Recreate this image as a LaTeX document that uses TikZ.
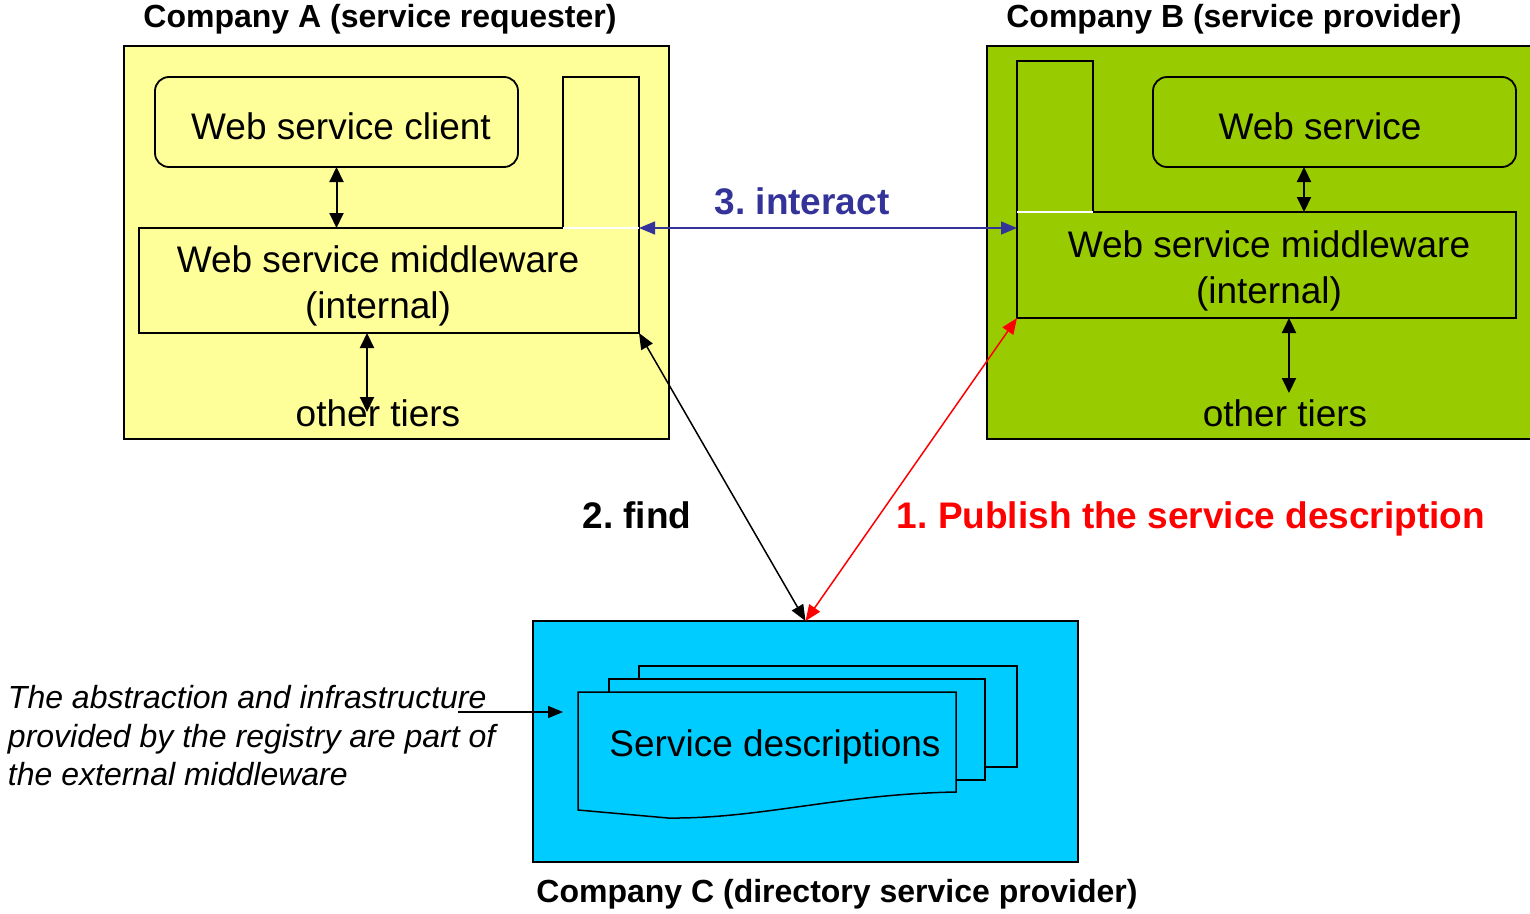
\documentclass[tikz,border=0pt]{standalone}
\usepackage{fontspec}
\setmainfont{Liberation Sans}
\usetikzlibrary{arrows.meta}
\frenchspacing
\definecolor{reqyellow}{HTML}{FFFF99}
\definecolor{provgreen}{HTML}{99CC00}
\definecolor{dircyan}{HTML}{00CCFF}
\definecolor{interblue}{HTML}{333399}
\definecolor{pubred}{HTML}{FF0000}
\tikzset{
  box/.style={draw=black, line width=1.8pt, inner sep=0pt, outer sep=0pt, anchor=north west},
  rbox/.style={box, rounded corners=14pt},
  txt/.style={inner sep=0pt, outer sep=0pt, align=center, font=\fontsize{37}{46}\selectfont},
  ttl/.style={inner sep=0pt, outer sep=0pt, font=\fontsize{32}{38}\selectfont\bfseries},
  steplbl/.style={inner sep=0pt, outer sep=0pt, font=\fontsize{37}{44}\selectfont\bfseries},
  note/.style={inner sep=0pt, outer sep=0pt, align=left, anchor=west, font=\fontsize{32}{38.5}\selectfont\itshape},
  bigarr/.style={line width=1.5pt, {Triangle[length=16pt,width=13pt]}-{Triangle[length=16pt,width=13pt]}},
  smallarr/.style={line width=2pt, {Triangle[length=15pt,width=14pt]}-{Triangle[length=15pt,width=14pt]}},
  seam/.style={draw=white, line width=1.3pt},
}
\begin{document}
\begin{tikzpicture}[x=1pt,y=-1pt]
\useasboundingbox (0,0) rectangle (1530,913);

% ---- Company A: service requester ----
\node[box, fill=reqyellow, minimum width=545pt, minimum height=393pt] (A) at (124,46) {};
\node[ttl] (Atitle) at (380,19) {Company A (service requester)};
\node[rbox, minimum width=363pt, minimum height=90pt] (client) at (155,77) {};
\node[txt] (clienttxt) at (341,126) {Web service client};
\node[box, minimum width=500pt, minimum height=105pt] (MA) at (139,228) {};
\node[txt] (MAtxt) at (378,286) {Web service middleware\\(internal)};
\node[box, minimum width=76pt, minimum height=151pt] (portA) at (563,77) {};
\draw[seam] (portA.south west) -- (portA.south east);
\node[txt] (tiersA) at (378,413) {other tiers};
\coordinate (tiersAend) at (367,412);

% ---- Company B: service provider ----
\node[box, fill=provgreen, minimum width=545pt, minimum height=393pt] (B) at (987,46) {};
\node[ttl] (Btitle) at (1234,19) {Company B (service provider)};
\node[rbox, minimum width=363pt, minimum height=90pt] (ws) at (1153,77) {};
\node[txt] (wstxt) at (1320,126) {Web service};
\node[box, minimum width=499pt, minimum height=106pt] (MB) at (1017,212) {};
\node[txt] (MBtxt) at (1269,271) {Web service middleware\\(internal)};
\node[box, minimum width=76pt, minimum height=151pt] (portB) at (1017,61) {};
\draw[seam] (portB.south west) -- (portB.south east);
\node[txt] (tiersB) at (1285,413) {other tiers};
\coordinate (wsx) at (1304,0);
\coordinate (tiersBend) at (1289,393);

% ---- Company C: directory service provider ----
\node[box, fill=dircyan, minimum width=545pt, minimum height=241pt] (C) at (533,621) {};
\node[ttl] (Ctitle) at (837,894) {Company C (directory service provider)};
\node[box, fill=dircyan, line width=1.5pt, minimum width=378pt, minimum height=101pt] (docback) at (639,666) {};
\node[box, fill=dircyan, line width=1.5pt, minimum width=376pt, minimum height=101pt] (docmid) at (609,679) {};
\draw[line width=1.5pt, fill=dircyan] (578,692) -- (956,692) -- (956,792)
  .. controls (840,794) and (760,819) .. (668,818) -- (578,810) -- cycle;
\node[txt] (doctxt) at (775,747) {Service descriptions};
\coordinate (docfront) at (563,712);

% ---- note on the registry ----
\node[note] (note) at (8,736) {The abstraction and infrastructure\\provided by the registry are part of\\the external middleware};
\coordinate (notestart) at (458,712);

% ---- connectors ----
\draw[smallarr] (client.south) -- (client.south |- MA.north);
\draw[smallarr] (tiersAend |- MA.south) -- (tiersAend);
\draw[smallarr] (wsx |- ws.south) -- (wsx |- MB.north);
\draw[smallarr] (tiersBend |- MB.south) -- (tiersBend);

\draw[bigarr, draw=interblue, fill=interblue] (MA.north east) -- (MA.north east -| MB.west);
\node[steplbl, text=interblue] (interact) at (802,201) {3. interact};

\draw[bigarr] (MA.south east) -- (C.north);
\node[steplbl] (find) at (637,515) {2. find};

\draw[bigarr, draw=pubred, fill=pubred] (MB.south west) -- (C.north);
\node[steplbl, text=pubred] (publish) at (1191,519) {1. Publish the service description};

\draw[line width=1.5pt, -{Triangle[length=15pt,width=12pt]}] (notestart) -- (docfront);
\end{tikzpicture}
\end{document}
